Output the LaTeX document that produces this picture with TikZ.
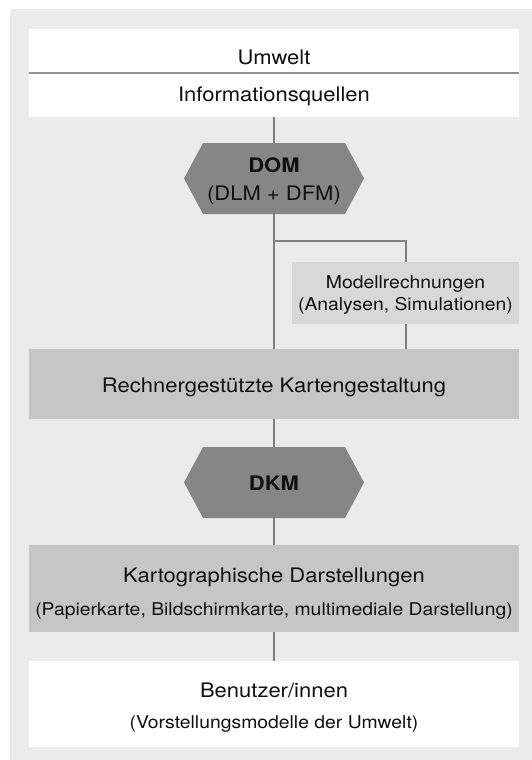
\documentclass[tikz,border=0pt]{standalone}
\usepackage{fontspec}
\setmainfont{TeX Gyre Heros}[FakeStretch=1.1]
\usetikzlibrary{calc}

\definecolor{panelgrey}{HTML}{EBEBEB}
\definecolor{boxgrey}{HTML}{C6C6C6}
\definecolor{lightbox}{HTML}{D8D8D8}
\definecolor{hexgrey}{HTML}{868686}
\definecolor{linegrey}{HTML}{7E7E7E}
\definecolor{inkgrey}{HTML}{101010}

\newcommand\maintxt{\fontsize{20}{24}\selectfont}
\newcommand\subtxt{\fontsize{17.6}{21}\selectfont}

\begin{document}
\begin{tikzpicture}[x=1pt,y=-1pt,
  panelbox/.style={rectangle, inner sep=0pt, outer sep=0pt, anchor=north west, draw=none},
  hexnode/.style={rectangle, inner sep=0pt, outer sep=0pt, minimum width=180pt, minimum height=71pt},
  txt/.style={inner sep=0pt, outer sep=0pt, anchor=base, text=inkgrey, font=\maintxt},
  subtext/.style={txt, font=\subtxt},
  conn/.style={draw=linegrey, line width=2pt},
  divider/.style={draw=linegrey!85, line width=1.4pt}]

% page and panel
\fill[white] (0,0) rectangle (532,760);
\useasboundingbox (0,0) rectangle (532,760);
\fill[panelgrey] (10,9) rectangle (532,760);

% boxes
\node[panelbox, fill=white, minimum width=490pt, minimum height=44pt] (umw) at (29,29) {};
\node[panelbox, fill=white, minimum width=490pt, minimum height=44pt] (info) at (29,73) {};
\node[panelbox, fill=lightbox, minimum width=227pt, minimum height=62pt] (model) at (292,262) {};
\node[panelbox, fill=boxgrey, minimum width=490pt, minimum height=70pt] (rech) at (29,349) {};
\node[panelbox, fill=boxgrey, minimum width=490pt, minimum height=87pt] (kart) at (29,545) {};
\node[panelbox, fill=white, minimum width=490pt, minimum height=86pt] (user) at (29,661) {};

% hexagonal model nodes
\node[hexnode] (dom) at (274,178.5) {};
\node[hexnode] (dkm) at (274,482.5) {};
\foreach \h in {dom,dkm}{
  \fill[hexgrey] ($(\h.north west)+(19,0)$) -- ($(\h.north east)+(-19,0)$) -- (\h.east)
    -- ($(\h.south east)+(-19,0)$) -- ($(\h.south west)+(19,0)$) -- (\h.west) -- cycle;
}

% connectors
\draw[divider] (umw.south west) -- (umw.south east);
\draw[conn] (info.south) -- (dom.north);
\draw[conn] (dom.south) -- (rech.north);
\coordinate (fork) at (274,241);
\draw[conn] (fork) -| (model.north);
\draw[conn] (model.south) -- (model.south |- rech.north);
\draw[conn] (rech.south) -- (dkm.north);
\draw[conn] (dkm.south) -- (kart.north);
\draw[conn] (kart.south) -- (user.north);

% labels
\node[txt] (umw-t) at (274,64) {Umwelt};
\node[txt] (info-t) at (274,101) {Informationsquellen};
\node[txt, font=\maintxt\bfseries] (dom-t) at (274,172) {DOM};
\node[txt] (dom-s) at (274,200) {(DLM + DFM)};
\node[subtext] (model-t) at (405.5,288) {Modellrechnungen};
\node[subtext] (model-s) at (405.5,310) {(Analysen, Simulationen)};
\node[txt] (rech-t) at (274,392) {Rechnergestützte Kartengestaltung};
\node[txt, font=\maintxt\bfseries] (dkm-t) at (274,490) {DKM};
\node[txt] (kart-t) at (274,582) {Kartographische Darstellungen};
\node[subtext] (kart-s) at (274,615) {(Papierkarte, Bildschirmkarte, multimediale Darstellung)};
\node[txt] (user-t) at (274,697) {Benutzer/innen};
\node[subtext] (user-s) at (274,728) {(Vorstellungsmodelle der Umwelt)};
\end{tikzpicture}
\end{document}
